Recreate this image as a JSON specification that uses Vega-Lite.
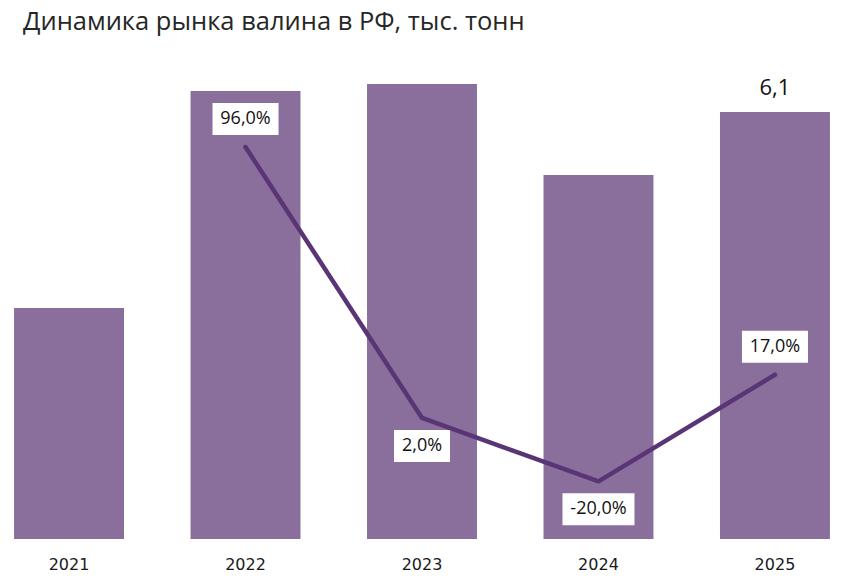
{
  "$schema": "https://vega.github.io/schema/vega-lite/v6.json",
  "autosize": {"type": "none"},
  "width": 842,
  "height": 490,
  "padding": {"top": 49, "left": 1, "right": 1, "bottom": 46},
  "background": "white",
  "title": {
    "text": "Динамика рынка валина в РФ, тыс. тонн",
    "anchor": "start",
    "frame": "group",
    "dx": 22,
    "offset": -6,
    "baseline": "alphabetic",
    "font": "Open Sans",
    "fontSize": 25.5,
    "fontWeight": "normal",
    "color": "#262626"
  },
  "config": {
    "view": {"stroke": null},
    "locale": {
      "number": {"decimal": ",", "thousands": " ", "grouping": [3], "currency": ["", ""], "minus": "-"}
    }
  },
  "data": {
    "values": [
      {"year": "2021", "volume": 3.3, "growth": null},
      {"year": "2022", "volume": 6.4, "growth": 0.96},
      {"year": "2023", "volume": 6.5, "growth": 0.02},
      {"year": "2024", "volume": 5.2, "growth": -0.2},
      {"year": "2025", "volume": 6.1, "growth": 0.17}
    ]
  },
  "encoding": {
    "x": {
      "field": "year",
      "type": "ordinal",
      "scale": {"paddingInner": 0.377, "paddingOuter": 0.074},
      "axis": {
        "title": null,
        "domain": false,
        "ticks": false,
        "labelAngle": 0,
        "labelFont": "DejaVu Sans",
        "labelFontSize": 16,
        "labelColor": "#1a1a1a",
        "labelPadding": 17
      }
    }
  },
  "layer": [
    {
      "layer": [
        {
          "mark": {"type": "bar", "color": "#8a6f9d"},
          "encoding": {
            "y": {"field": "volume", "type": "quantitative", "scale": {"domain": [0, 7], "nice": false}, "axis": null}
          }
        },
        {
          "transform": [{"filter": "datum.year == '2025'"}],
          "mark": {"type": "text", "dy": -24, "font": "Open Sans", "fontSize": 22, "color": "#111111"},
          "encoding": {
            "y": {"field": "volume", "type": "quantitative"},
            "text": {"field": "volume", "type": "quantitative", "format": ".1f"}
          }
        }
      ]
    },
    {
      "layer": [
        {
          "mark": {"type": "line", "color": "#5a3576", "strokeWidth": 4.5, "strokeCap": "round", "strokeJoin": "round"},
          "encoding": {
            "y": {"field": "growth", "type": "quantitative", "scale": {"domain": [-0.4, 1.3], "nice": false, "zero": false}, "axis": null}
          }
        },
        {
          "transform": [{"filter": "datum.growth != null"}],
          "mark": {"type": "point", "filled": true, "opacity": 1, "strokeWidth": 0, "color": "white", "size": 4},
          "encoding": {
            "y": {"field": "growth", "type": "quantitative"},
            "shape": {
              "condition": [
                {"test": "datum.growth < 0", "value": "M-36,12L36,12L36,44L-36,44Z"},
                {"test": "datum.growth < 0.1", "value": "M-28,12L28,12L28,44L-28,44Z"}
              ],
              "value": "M-33,-44L33,-44L33,-12L-33,-12Z"
            }
          }
        },
        {
          "transform": [{"filter": "datum.growth != null && datum.growth > 0.1"}],
          "mark": {"type": "text", "dy": -28, "font": "Open Sans", "fontSize": 18, "color": "#111111"},
          "encoding": {
            "y": {"field": "growth", "type": "quantitative"},
            "text": {"field": "growth", "type": "quantitative", "format": ".1%"}
          }
        },
        {
          "transform": [{"filter": "datum.growth != null && datum.growth < 0.1"}],
          "mark": {"type": "text", "dy": 28, "font": "Open Sans", "fontSize": 18, "color": "#111111"},
          "encoding": {
            "y": {"field": "growth", "type": "quantitative"},
            "text": {"field": "growth", "type": "quantitative", "format": ".1%"}
          }
        }
      ]
    }
  ],
  "resolve": {"scale": {"y": "independent"}}
}
